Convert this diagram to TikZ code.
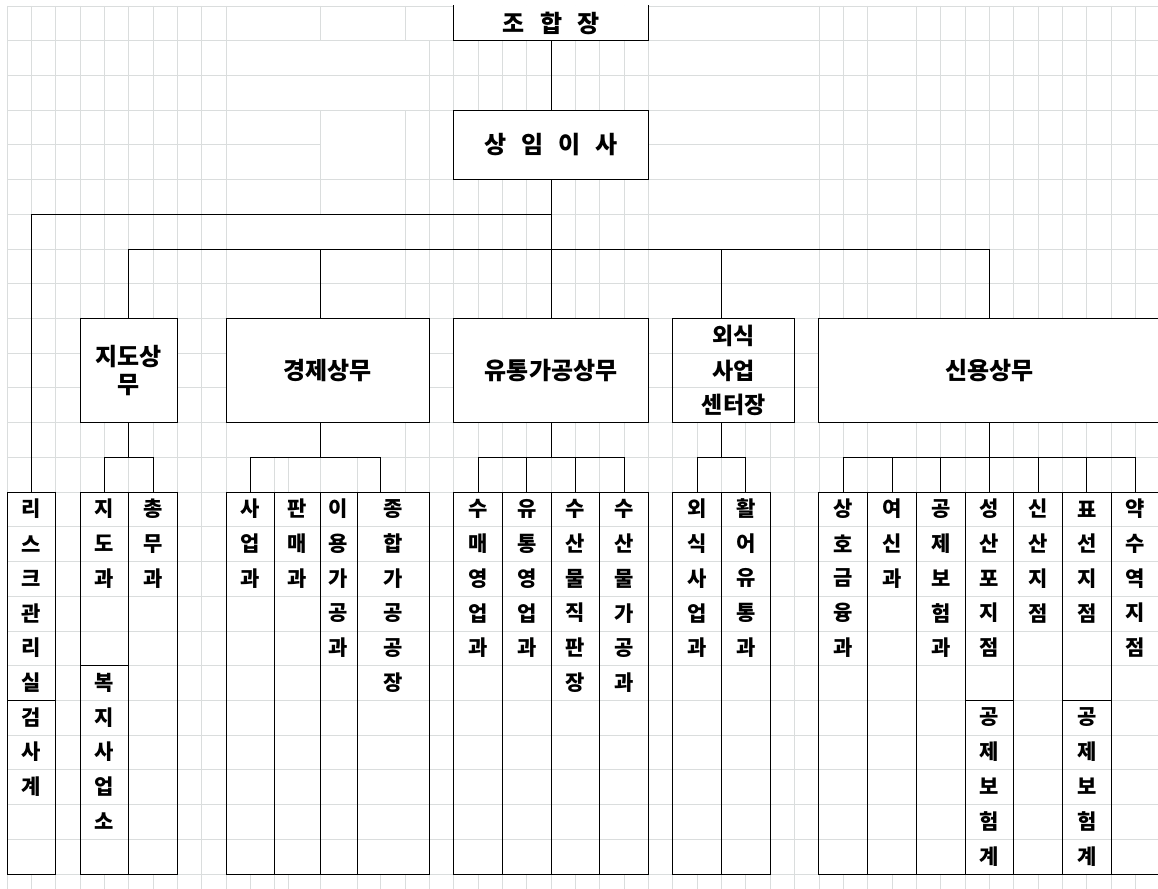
\documentclass[tikz,border=0pt]{standalone}
\usepackage{fontspec}
\newfontfamily\kr{Noto Sans CJK KR}
\usetikzlibrary{positioning}
\definecolor{gridgray}{RGB}{218,221,221}
\newcommand{\headfont}{\kr\bfseries\fontsize{24}{28}\selectfont}

% x1/x2 in px, rows counted from the top line of the sheet
\def\depts{risk/7/55.7/14/20/{리,스,크,관,리,실},
  audit/7/55.7/20/25/{검,사,계},
  guide/80.05/128.75/14/19/{지,도,과},
  welfare/80.05/128.75/19/25/{복,지,사,업,소},
  admin/128.75/177.45/14/25/{총,무,과},
  biz/226.15/274.85/14/25/{사,업,과},
  sale/274.85/320/14/25/{판,매,과},
  use/320/357/14/25/{이,용,가,공,과},
  plant/357/429.35/14/25/{종,합,가,공,공,장},
  buy/453.7/502.4/14/25/{수,매,영,업,과},
  trade/502.4/551.1/14/25/{유,통,영,업,과},
  shop/551.1/599.8/14/25/{수,산,물,직,판,장},
  proc/599.8/648.5/14/25/{수,산,물,가,공,과},
  dine/672.85/721.55/14/25/{외,식,사,업,과},
  fish/721.55/770.25/14/25/{활,어,유,통,과},
  mutual/818.95/867.65/14/25/{상,호,금,융,과},
  loan/867.65/916.35/14/25/{여,신,과},
  insur/916.35/965.05/14/25/{공,제,보,험,과},
  ssp/965.05/1013.75/14/20/{성,산,포,지,점},
  sspins/965.05/1013.75/20/25/{공,제,보,험,계},
  sinsan/1013.75/1062.45/14/25/{신,산,지,점},
  pyo/1062.45/1111.15/14/20/{표,선,지,점},
  pyoins/1062.45/1111.15/20/25/{공,제,보,험,계},
  yak/1111.15/1159.85/14/25/{약,수,역,지,점}}

\begin{document}
\begin{tikzpicture}[x=1pt,y=-34.72pt,
    grid/.style={draw=gridgray, line width=0.9pt},
    wire/.style={line width=1pt, line cap=rect},
    head/.style={fill=white, inner sep=0pt, font=\headfont, align=center},
    spaced/.style={font={\headfont\spaceskip=15pt}},
    dept/.style={draw, line width=1pt, inner sep=0pt},
    ch/.style={inner sep=0pt, font=\kr\bfseries\fontsize{21}{21}\selectfont}]
\useasboundingbox (0,-0.1728) rectangle (1158,25.4032);

% sheet grid
\foreach \x/\s in {7/0,31.35/0,55.7/0,80.05/0,104.4/0,128.75/0,153.1/0,177.45/0,201.8/0,226.15/0,
    250.5/13,274.85/13,288/13,357/13,380/13,429.35/1,
    453.7/0,478.05/0,502.4/0,526.75/0,551.1/0,575.45/0,599.8/0,624.15/0,648.5/0,
    672.85/12,697.2/12,721.55/12,745.9/12,770.25/12,794.6/12,
    818.95/0,843.3/0,867.65/0,892/13,916.35/0,940.7/0,965.05/0,989.4/0,1013.75/0,
    1038.1/0,1062.45/0,1086.8/0,1111.15/0,1135.5/0}
  \draw[grid] (\x,\s) -- (\x,25.5);
\foreach \x/\s/\e in {320/0/1,320/3/6,320/7/25.5,405/0/1,405/3/25.5} \draw[grid] (\x,\s) -- (\x,\e);
\foreach \n/\xa/\xb/\ta/\tb/\s in \depts \fill[white] (\xa,\ta) rectangle (\xb,\tb);
\foreach \r in {0,...,3,5,6,...,25} \draw[grid] (7,\r) -- (1160,\r);
\draw[grid] (7,4) -- (320,4); \draw[grid] (453.7,4) -- (1160,4);

% heads
\node[head, spaced, minimum width=194.8pt, minimum height=34.72pt] (chief) at (551.1,0.5) {조 합 장};
\draw[wire] (chief.north west) -- (chief.south west) -- (chief.south east) -- (chief.north east);
\node[head, spaced, draw, line width=1pt, minimum width=194.8pt, minimum height=69.44pt] (exec) at (551.1,4) {상 임 이 사};
\node[head, draw, line width=1pt, minimum width=97.4pt, minimum height=104.16pt] (guidance) at (128.75,10.5) {지도상\\무};
\node[head, draw, line width=1pt, minimum width=203.2pt, minimum height=104.16pt] (economy) at (327.75,10.5) {경제상무};
\node[head, draw, line width=1pt, minimum width=194.8pt, minimum height=104.16pt] (logistics) at (551.1,10.5) {유통가공상무};
\node[head, draw, line width=1pt, fill=none, minimum width=121.75pt, minimum height=104.16pt,
  font=\kr\bfseries\fontsize{23}{34.72}\selectfont] (dining) at (733.725,10.5) {외식\\사업\\센터장};
\node[head, draw, line width=1pt, minimum width=340.9pt, minimum height=104.16pt] (credit) at (989.4,10.5) {신용상무};

% departments
\foreach \n/\xa/\xb/\ta/\tb/\s in \depts {
  \node[dept, minimum width={(\xb-\xa)*1pt}, minimum height={(\tb-\ta)*34.72pt}] (\n) at ({(\xa+\xb)/2},{(\ta+\tb)/2}) {};
  \foreach \c [count=\i] in \s \path (\n.north) ++(0,\i-0.5) node[ch] (\n-\i) {\c};
}

% lines
\coordinate (trunk1) at (551.1,6);
\coordinate (trunk2) at (551.1,7);
\coordinate (ecotop) at (320,9);
\coordinate (dinetop) at (721.55,9);
\draw[wire] (chief) -- (exec);
\draw[wire] (exec) -- (trunk2);
\draw[wire] (trunk1) -| (risk.north);
\draw[wire] (guidance.north) |- (trunk2) -| (credit.north);
\draw[wire] (logistics) -- (trunk2);
\draw[wire] (ecotop) -- (ecotop |- trunk2);
\draw[wire] (dinetop) -- (dinetop |- trunk2);

\coordinate (g13) at (128.75,13);
\draw[wire] (guidance) -- (g13);
\draw[wire] (guide.north) |- (g13) -| (admin.north);

\coordinate (e12) at (320,12);
\coordinate (e13) at (320,13);
\coordinate (plantin) at (380,14);
\draw[wire] (e12) -- (e13);
\draw[wire] (biz.north) |- (e13) -| (plantin);

\coordinate (l13) at (551.1,13);
\draw[wire] (logistics) -- (l13);
\draw[wire] (buy.north |- l13) -- (proc.north |- l13);
\foreach \n in {buy,trade,shop,proc} \draw[wire] (\n.north) -- (\n.north |- l13);

\coordinate (d12) at (721.55,12);
\coordinate (d13) at (721.55,13);
\draw[wire] (d12) -- (d13);
\draw[wire] (dine.north) |- (d13) -| (fish.north);

\coordinate (c13) at (989.4,13);
\draw[wire] (credit) -- (c13);
\draw[wire] (mutual.north |- c13) -- (yak.north |- c13);
\foreach \n in {mutual,loan,insur,ssp,sinsan,pyo,yak} \draw[wire] (\n.north) -- (\n.north |- c13);
\end{tikzpicture}
\end{document}
